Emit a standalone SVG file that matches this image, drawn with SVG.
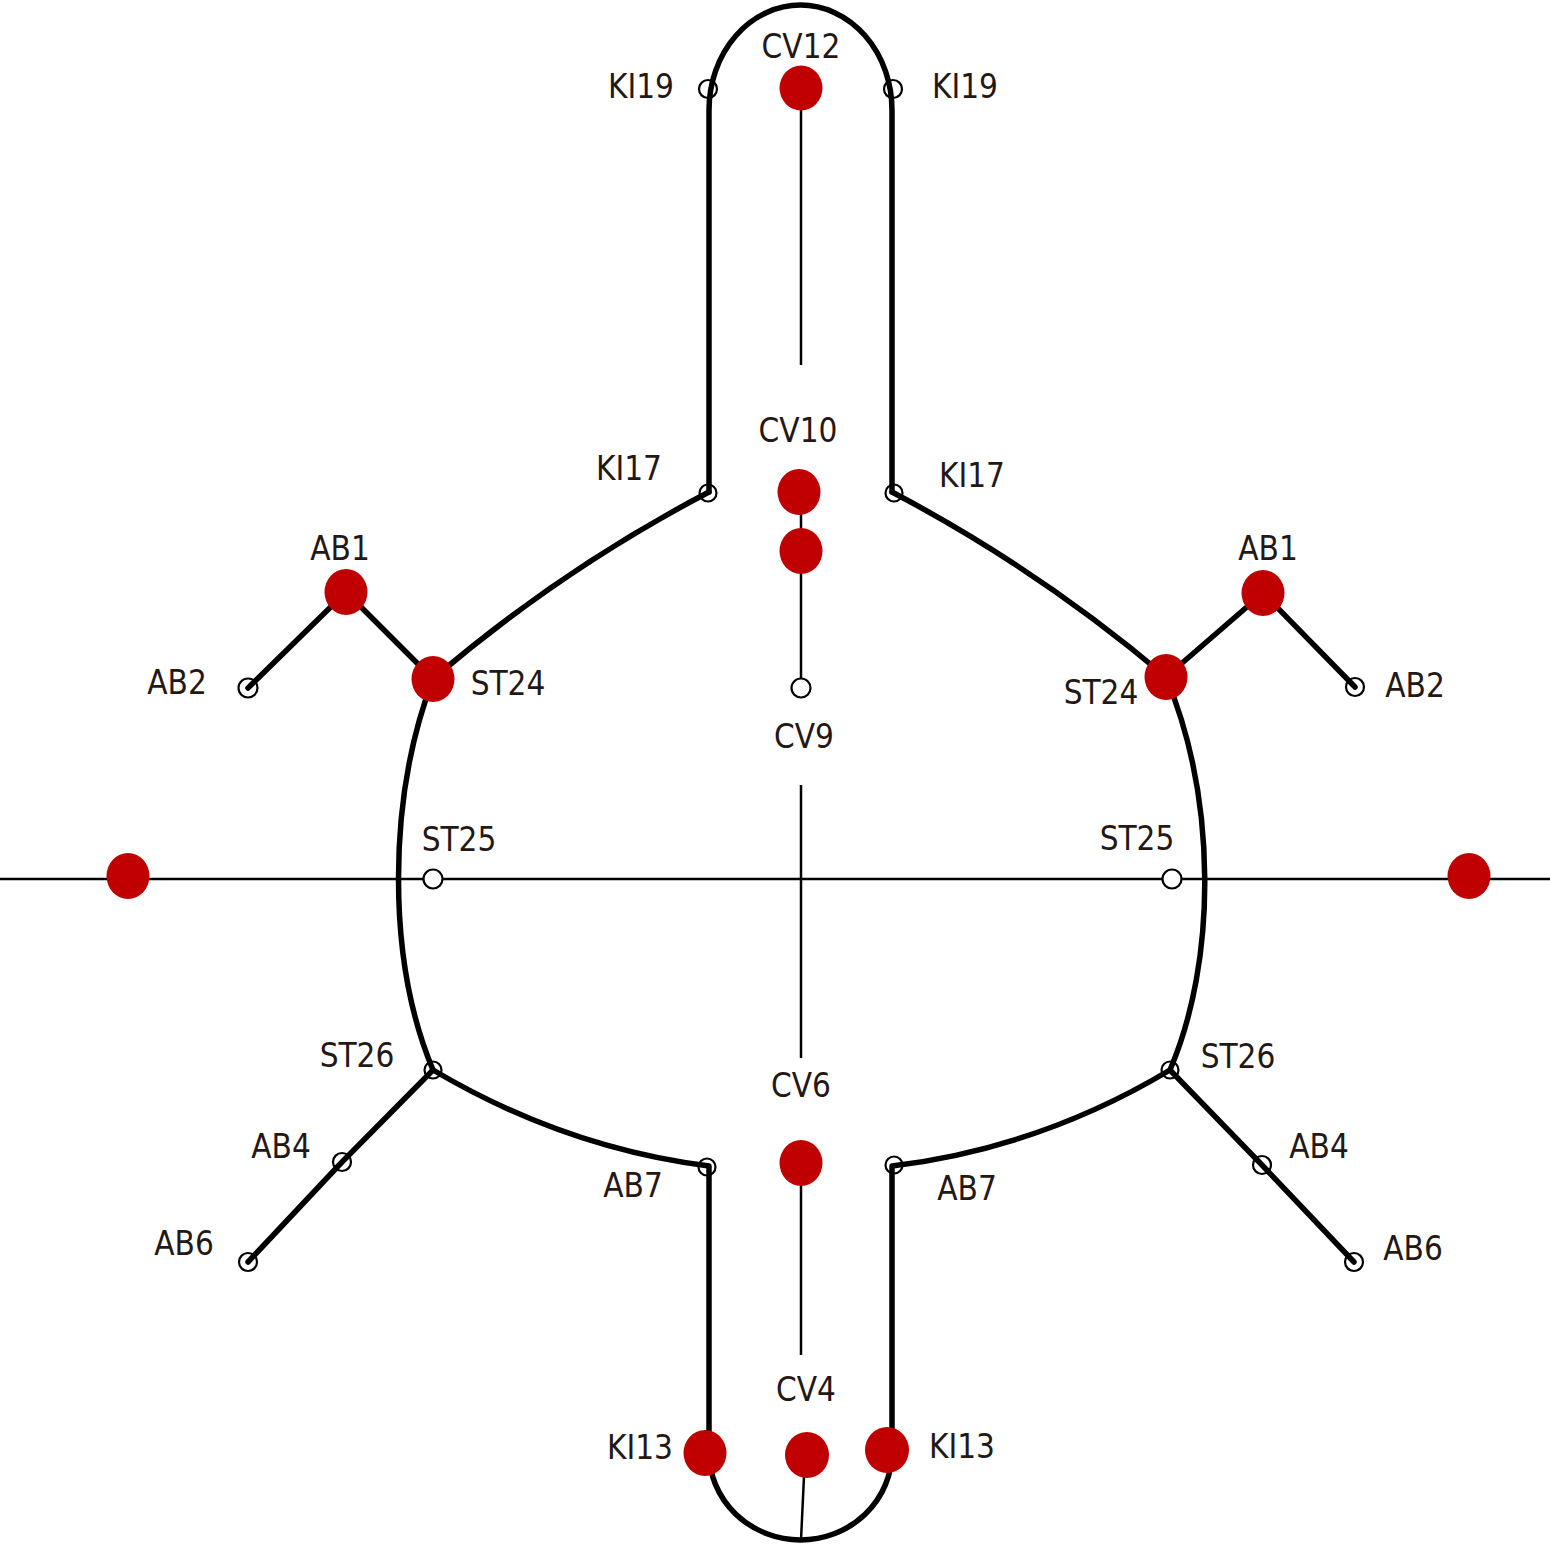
<svg xmlns="http://www.w3.org/2000/svg" width="1550" height="1560" viewBox="0 0 1550 1560">
<style>
.thick{fill:none;stroke:#000;stroke-width:5.5;stroke-linecap:round;stroke-linejoin:round}
.thin{fill:none;stroke:#000;stroke-width:2.5}
.pt{fill:none;stroke:#000;stroke-width:2.2}
.ptw{fill:#fff;stroke:#000;stroke-width:2.2}
.dot{fill:#c00000}
text{font-family:"DejaVu Sans Condensed","DejaVu Sans",sans-serif;font-stretch:condensed;font-size:33px;fill:#231815;text-anchor:middle}
</style>
<rect width="1550" height="1560" fill="#fff"/>
<g id="connectors">
<line class="thin" x1="0" y1="879" x2="1550" y2="879"/>
<line class="thin" x1="801" y1="88" x2="801" y2="365"/>
<line class="thin" x1="801" y1="492" x2="801" y2="688"/>
<line class="thin" x1="801" y1="785" x2="801" y2="1058"/>
<line class="thin" x1="801" y1="1163" x2="801" y2="1355"/>
<line class="thin" x1="805" y1="1455" x2="801" y2="1540"/>
<path class="thick" d="M709,492 L709,110 A91.5 105 0 0 1 892,110 L892,492"/>
<path class="thick" d="M709,492 Q560,570 433,679"/>
<path class="thick" d="M892,492 Q1040,570 1166,677"/>
<path class="thick" d="M433,679 C387,800 387,960 433,1070"/>
<path class="thick" d="M1166,677 C1217,800 1217,960 1170,1070"/>
<path class="thick" d="M433,1070 Q565,1148 709,1166 L709,1452 A91.5 88 0 0 0 892,1452 L892,1166 Q1040,1148 1170,1070"/>
<path class="thick" d="M248,688 L346,592 L433,679"/>
<path class="thick" d="M1355,687 L1263,593 L1166,677"/>
<path class="thick" d="M433,1070 L342,1162 L248,1262"/>
<path class="thick" d="M1170,1070 L1262,1165 L1354,1262"/>
</g>
<g id="CV12"><ellipse class="dot" cx="801" cy="88" rx="21.5" ry="22.5"/><text x="801" y="58">CV12</text></g>
<g id="KI19-L"><circle class="pt" cx="708" cy="89" r="9"/><text x="641" y="98">KI19</text></g>
<g id="KI19-R"><circle class="pt" cx="893" cy="89" r="9"/><text x="965" y="98">KI19</text></g>
<g id="CV10"><ellipse class="dot" cx="799" cy="492" rx="21.5" ry="23"/><text x="798" y="442">CV10</text></g>
<g id="CV10b"><ellipse class="dot" cx="801" cy="551" rx="21.5" ry="23"/></g>
<g id="CV9"><circle class="ptw" cx="801" cy="688" r="9.5"/><text x="804" y="748">CV9</text></g>
<g id="KI17-L"><circle class="pt" cx="708" cy="493" r="8.5"/><text x="629" y="480">KI17</text></g>
<g id="KI17-R"><circle class="pt" cx="894" cy="493" r="8.5"/><text x="972" y="487">KI17</text></g>
<g id="AB1-L"><ellipse class="dot" cx="346" cy="592" rx="21.5" ry="23"/><text x="340" y="560">AB1</text></g>
<g id="AB2-L"><circle class="pt" cx="248" cy="688" r="9.5"/><text x="177" y="694">AB2</text></g>
<g id="ST24-L"><ellipse class="dot" cx="433" cy="679" rx="21.5" ry="23"/><text x="508" y="695">ST24</text></g>
<g id="AB1-R"><ellipse class="dot" cx="1263" cy="593" rx="21.5" ry="23"/><text x="1268" y="560">AB1</text></g>
<g id="AB2-R"><circle class="pt" cx="1355" cy="687" r="9"/><text x="1415" y="697">AB2</text></g>
<g id="ST24-R"><ellipse class="dot" cx="1166" cy="677" rx="21.5" ry="23"/><text x="1101" y="704">ST24</text></g>
<g id="ST25-L"><circle class="ptw" cx="433" cy="879" r="9.5"/><text x="459" y="851">ST25</text></g>
<g id="ST25-R"><circle class="ptw" cx="1172" cy="879" r="9.5"/><text x="1137" y="850">ST25</text></g>
<g id="dot-L"><ellipse class="dot" cx="128" cy="876" rx="21.5" ry="23"/></g>
<g id="dot-R"><ellipse class="dot" cx="1469" cy="876" rx="21.5" ry="23"/></g>
<g id="ST26-L"><circle class="pt" cx="433" cy="1070" r="8.5"/><text x="357" y="1067">ST26</text></g>
<g id="AB4-L"><circle class="pt" cx="342" cy="1162" r="9"/><text x="281" y="1158">AB4</text></g>
<g id="AB6-L"><circle class="pt" cx="248" cy="1262" r="9"/><text x="184" y="1255">AB6</text></g>
<g id="AB7-L"><circle class="pt" cx="707" cy="1167" r="8.5"/><text x="633" y="1197">AB7</text></g>
<g id="ST26-R"><circle class="pt" cx="1170" cy="1070" r="8.5"/><text x="1238" y="1068">ST26</text></g>
<g id="AB4-R"><circle class="pt" cx="1262" cy="1165" r="9"/><text x="1319" y="1158">AB4</text></g>
<g id="AB6-R"><circle class="pt" cx="1354" cy="1262" r="9"/><text x="1413" y="1260">AB6</text></g>
<g id="AB7-R"><circle class="pt" cx="894" cy="1165" r="8.5"/><text x="967" y="1200">AB7</text></g>
<g id="CV6"><ellipse class="dot" cx="801" cy="1163" rx="21.5" ry="23"/><text x="801" y="1097">CV6</text></g>
<g id="CV4"><ellipse class="dot" cx="807" cy="1455" rx="22" ry="23"/><text x="806" y="1401">CV4</text></g>
<g id="KI13-L"><ellipse class="dot" cx="705" cy="1453" rx="21.5" ry="23"/><text x="640" y="1459">KI13</text></g>
<g id="KI13-R"><ellipse class="dot" cx="887" cy="1450" rx="22" ry="23"/><text x="962" y="1458">KI13</text></g>
</svg>
